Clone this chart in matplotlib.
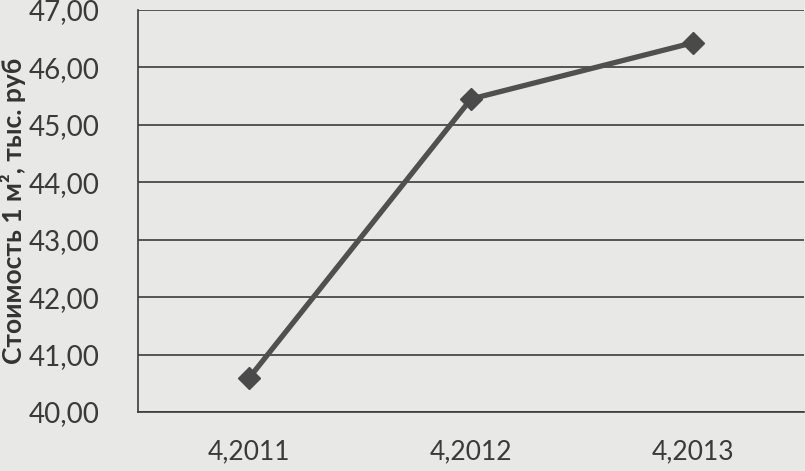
import matplotlib.pyplot as plt

# data
periods = ["4,2011", "4,2012", "4,2013"]
price = [40.59, 45.45, 46.43]
y_ticks = [40, 41, 42, 43, 44, 45, 46, 47]

plt.rcParams['font.family'] = ['Lato', 'DejaVu Sans']

bg = '#e8e8e6'
fig = plt.figure(figsize=(8.05, 4.71), dpi=100, facecolor=bg)
ax = fig.add_axes([138 / 805, (471 - 412) / 471, 666 / 805, 402 / 471])
ax.set_facecolor(bg)

x = list(range(len(periods)))
ax.plot(x, price, color='#505050', linewidth=3.8, marker='D',
        markersize=11, markerfacecolor='#4a4a4a', markeredgecolor='#4a4a4a',
        zorder=3)

ax.set_xlim(-0.5, len(periods) - 0.5)
ax.set_ylim(40, 47)
ax.set_yticks(y_ticks)
ax.set_yticklabels([f"{v:.2f}".replace('.', ',') for v in y_ticks])
ax.set_xticks(x)
ax.set_xticklabels(periods)
ax.grid(axis='y', color='#3c3c3c', linewidth=1.2)
ax.set_axisbelow(True)

for s in ['top', 'right']:
    ax.spines[s].set_visible(False)
for s in ['left', 'bottom']:
    ax.spines[s].set_color('#3c3c3c')
    ax.spines[s].set_linewidth(1.2)

ax.tick_params(axis='both', length=0, labelsize=20, colors='#3a3a3a')
ax.tick_params(axis='y', pad=28)
ax.tick_params(axis='x', labelsize=19, pad=20)

ax.set_ylabel("Стоимость 1 м², тыс. руб", fontsize=19, fontweight='bold',
              color='#333333')
ax.yaxis.set_label_coords(-0.168, 0.5)

fig.savefig('out.png', dpi=100, facecolor=bg)
